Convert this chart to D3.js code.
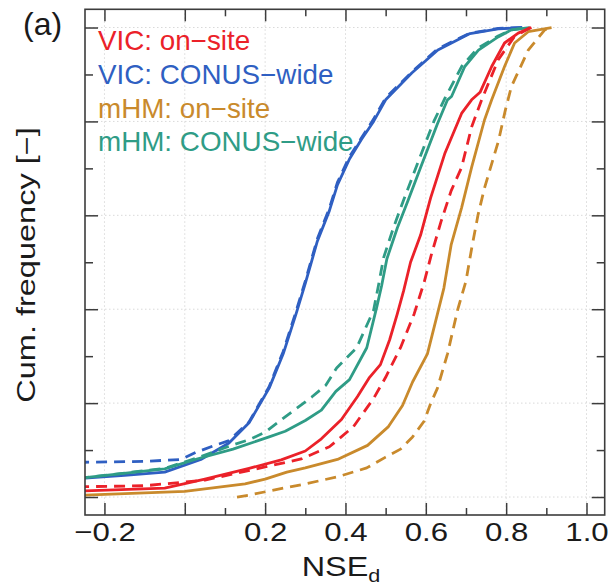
<!DOCTYPE html>
<html>
<head>
<meta charset="utf-8">
<script src="https://cdn.jsdelivr.net/npm/d3@7"></script>
<style>
  body { margin: 0; background: #fff; }
  text { font-family: "Liberation Sans", Arial, sans-serif; }
</style>
</head>
<body>
<div id="chartDiv"></div>
<script>
var vicOnsiteSolid = [[-0.40,0.010],[-0.25,0.013],[-0.05,0.019],[0.05,0.038],[0.16,0.061],[0.24,0.079],[0.30,0.098],[0.34,0.124],[0.39,0.165],[0.43,0.214],[0.46,0.255],[0.487,0.282],[0.51,0.335],[0.529,0.39],[0.545,0.44],[0.562,0.50],[0.587,0.558],[0.612,0.637],[0.647,0.731],[0.689,0.817],[0.714,0.846],[0.735,0.862],[0.764,0.917],[0.796,0.967],[0.83,0.988],[0.863,1.0]];
var vicOnsiteDashed = [[-0.40,0.018],[-0.25,0.022],[-0.10,0.024],[0.05,0.036],[0.20,0.064],[0.29,0.081],[0.36,0.107],[0.42,0.15],[0.47,0.21],[0.50,0.255],[0.537,0.318],[0.571,0.39],[0.596,0.458],[0.615,0.52],[0.638,0.587],[0.663,0.652],[0.689,0.702],[0.714,0.788],[0.739,0.846],[0.78,0.931],[0.82,0.98],[0.86,1.0]];
var vicConusSolid = [[-0.40,0.032],[-0.25,0.040],[-0.15,0.046],[-0.05,0.053],[0.04,0.080],[0.11,0.115],[0.16,0.158],[0.21,0.232],[0.245,0.305],[0.277,0.39],[0.30,0.455],[0.315,0.50],[0.33,0.545],[0.36,0.61],[0.38,0.665],[0.41,0.72],[0.44,0.762],[0.47,0.80],[0.50,0.846],[0.565,0.903],[0.63,0.952],[0.71,0.987],[0.78,0.997],[0.84,1.0]];
var vicConusDashed = [[-0.40,0.070],[-0.25,0.074],[-0.10,0.076],[-0.01,0.080],[0.03,0.096],[0.075,0.110],[0.11,0.120],[0.16,0.160],[0.21,0.235],[0.245,0.31],[0.275,0.39],[0.30,0.46],[0.315,0.505],[0.33,0.55],[0.36,0.615],[0.38,0.67],[0.41,0.725],[0.44,0.765],[0.47,0.805],[0.50,0.85],[0.565,0.905],[0.63,0.955],[0.71,0.988],[0.78,0.998],[0.84,1.0]];
var mhmOnsiteSolid = [[-0.40,0.0],[-0.25,0.004],[0.0,0.012],[0.15,0.028],[0.20,0.038],[0.254,0.053],[0.30,0.062],[0.38,0.080],[0.455,0.110],[0.507,0.150],[0.542,0.195],[0.567,0.245],[0.604,0.305],[0.629,0.39],[0.645,0.445],[0.663,0.537],[0.689,0.616],[0.714,0.702],[0.746,0.803],[0.764,0.846],[0.796,0.917],[0.821,0.967],[0.855,0.991],[0.913,1.0]];
var mhmOnsiteDashed = [[0.13,0.0],[0.16,0.004],[0.211,0.013],[0.30,0.028],[0.38,0.043],[0.453,0.062],[0.50,0.085],[0.537,0.102],[0.567,0.128],[0.596,0.162],[0.612,0.199],[0.629,0.232],[0.654,0.305],[0.679,0.398],[0.70,0.46],[0.714,0.529],[0.73,0.601],[0.746,0.658],[0.781,0.759],[0.798,0.824],[0.813,0.874],[0.855,0.952],[0.896,0.995],[0.913,1.0]];
var mhmConusSolid = [[-0.40,0.032],[-0.25,0.041],[-0.05,0.060],[0.03,0.081],[0.12,0.102],[0.21,0.128],[0.25,0.140],[0.30,0.163],[0.34,0.185],[0.376,0.225],[0.41,0.25],[0.453,0.318],[0.478,0.405],[0.49,0.45],[0.503,0.507],[0.529,0.573],[0.555,0.630],[0.587,0.702],[0.629,0.795],[0.654,0.846],[0.664,0.853],[0.697,0.917],[0.731,0.952],[0.78,0.98],[0.813,0.995],[0.858,1.0]];
var mhmConusDashed = [[-0.40,0.032],[-0.25,0.041],[-0.05,0.061],[0.03,0.083],[0.10,0.105],[0.124,0.112],[0.16,0.122],[0.20,0.138],[0.244,0.167],[0.316,0.213],[0.351,0.238],[0.378,0.275],[0.428,0.318],[0.47,0.398],[0.482,0.45],[0.495,0.51],[0.52,0.575],[0.545,0.633],[0.577,0.705],[0.62,0.80],[0.648,0.85],[0.69,0.918],[0.728,0.955],[0.78,0.982],[0.813,0.995],[0.858,1.0]];

var legendNames = ["VIC: on\u2212site", "VIC: CONUS\u2212wide", "mHM: on\u2212site", "mHM: CONUS\u2212wide"];
var legendColors = ["#eb2129", "#2f5fc2", "#c98a2c", "#2f9c86"];

var xMajorTicks = [-0.2, 0, 0.2, 0.4, 0.6, 0.8, 1.0];
var xMinorTicks = [0.1, 0.3, 0.5, 0.7, 0.9];
var yMajorTicks = [0, 0.2, 0.4, 0.6, 0.8, 1.0];
var yMinorTicks = [0.1, 0.3, 0.5, 0.7, 0.9];

var width = 612, height = 586;
var margin = {left: 85, top: 9.3, right: 612 - 604.7, bottom: 586 - 515};
var w = width - margin.left - margin.right,
    h = height - margin.top - margin.bottom;

var x = d3.scaleLinear().domain([-0.2484, 1.0453]).range([0, w]);
var y = d3.scaleLinear().domain([-0.0383, 1.0388]).range([h, 0]);

var svg = d3.select("#chartDiv").append("svg")
    .attr("width", width)
    .attr("height", height);

var g = svg.append("g")
    .attr("transform", "translate(" + margin.left + "," + margin.top + ")");

svg.append("defs").append("clipPath").attr("id", "plotClip")
  .append("rect").attr("width", w).attr("height", h);

// dotted grid
g.append("g").selectAll("line").data(xMajorTicks).enter().append("line")
    .attr("x1", function (d) { return x(d); }).attr("x2", function (d) { return x(d); })
    .attr("y1", 0).attr("y2", h)
    .attr("stroke", "#d9d9d9").attr("stroke-width", 1).attr("stroke-dasharray", "1.5,2.5");
g.append("g").selectAll("line").data(yMajorTicks).enter().append("line")
    .attr("y1", function (d) { return y(d); }).attr("y2", function (d) { return y(d); })
    .attr("x1", 0).attr("x2", w)
    .attr("stroke", "#d9d9d9").attr("stroke-width", 1).attr("stroke-dasharray", "1.5,2.5");

// curves
var line = d3.line()
    .x(function (d) { return x(d[0]); })
    .y(function (d) { return y(d[1]); });

var series = [
  {data: vicConusDashed, color: legendColors[1], dash: "11,7"},
  {data: vicConusSolid, color: legendColors[1], dash: null},
  {data: mhmConusDashed, color: legendColors[3], dash: "11,7"},
  {data: mhmConusSolid, color: legendColors[3], dash: null},
  {data: mhmOnsiteDashed, color: legendColors[2], dash: "11,7"},
  {data: mhmOnsiteSolid, color: legendColors[2], dash: null},
  {data: vicOnsiteDashed, color: legendColors[0], dash: "11,7"},
  {data: vicOnsiteSolid, color: legendColors[0], dash: null}
];

g.append("g").attr("clip-path", "url(#plotClip)")
  .selectAll("path").data(series).enter().append("path")
    .attr("d", function (d) { return line(d.data); })
    .attr("fill", "none")
    .attr("stroke", function (d) { return d.color; })
    .attr("stroke-width", 2.8)
    .attr("stroke-linejoin", "round")
    .attr("stroke-dasharray", function (d) { return d.dash; });

// ticks on all four sides, pointing inward
var fmt = d3.format(".1f");
var axisColor = "#3c3c3c";

function styleAxis(sel) {
  sel.select(".domain").remove();
  sel.selectAll(".tick line").attr("stroke", axisColor).attr("stroke-width", 1.5);
}

g.append("g").attr("transform", "translate(0," + h + ")")
    .call(d3.axisBottom(x).tickValues(xMajorTicks).tickSizeInner(-12).tickSizeOuter(0).tickPadding(8)
      .tickFormat(function (d) { return d === 0 ? "" : fmt(d); }))
    .call(styleAxis)
    .call(function (s) {
      s.selectAll("text").attr("fill", "#1a1a1a").attr("font-size", 26)
        .attr("font-family", "Liberation Sans, Arial, sans-serif")
        .attr("transform", "scale(1.2,1)");
    });
g.append("g").attr("transform", "translate(0," + h + ")")
    .call(d3.axisBottom(x).tickValues(xMinorTicks).tickSizeInner(-7).tickSizeOuter(0).tickFormat(""))
    .call(styleAxis);
g.append("g")
    .call(d3.axisTop(x).tickValues(xMajorTicks).tickSizeInner(-12).tickSizeOuter(0).tickFormat(""))
    .call(styleAxis);
g.append("g")
    .call(d3.axisTop(x).tickValues(xMinorTicks).tickSizeInner(-7).tickSizeOuter(0).tickFormat(""))
    .call(styleAxis);
g.append("g")
    .call(d3.axisLeft(y).tickValues(yMajorTicks).tickSizeInner(-13).tickSizeOuter(0).tickFormat(""))
    .call(styleAxis);
g.append("g")
    .call(d3.axisLeft(y).tickValues(yMinorTicks).tickSizeInner(-8).tickSizeOuter(0).tickFormat(""))
    .call(styleAxis);
g.append("g").attr("transform", "translate(" + w + ",0)")
    .call(d3.axisRight(y).tickValues(yMajorTicks).tickSizeInner(-13).tickSizeOuter(0).tickFormat(""))
    .call(styleAxis);
g.append("g").attr("transform", "translate(" + w + ",0)")
    .call(d3.axisRight(y).tickValues(yMinorTicks).tickSizeInner(-8).tickSizeOuter(0).tickFormat(""))
    .call(styleAxis);

// frame
g.append("rect")
    .attr("width", w).attr("height", h)
    .attr("fill", "none").attr("stroke", axisColor).attr("stroke-width", 1.6);

// legend (coloured text only)
g.append("g").selectAll("text").data(legendNames).enter().append("text")
    .attr("transform", function (d, i) {
      return "translate(" + (98 - margin.left) + "," + (50 - margin.top + i * 33.8) + ") scale(1.03,1)";
    })
    .attr("font-size", 27)
    .attr("fill", function (d, i) { return legendColors[i]; })
    .text(function (d) { return d; });

// axis labels
var xl = svg.append("text")
    .attr("transform", "translate(341,576) scale(1.2,1)")
    .attr("text-anchor", "middle")
    .attr("font-size", 27)
    .attr("fill", "#1a1a1a");
xl.append("tspan").text("NSE");
xl.append("tspan").attr("font-size", 18).attr("dy", 6).text("d");

svg.append("text")
    .attr("transform", "translate(35,265) rotate(-90) scale(1.3,1)")
    .attr("text-anchor", "middle")
    .attr("font-size", 25)
    .attr("fill", "#1a1a1a")
    .text("Cum. frequency [\u2212]");

svg.append("text")
    .attr("x", 23).attr("y", 35)
    .attr("font-size", 32)
    .attr("fill", "#1a1a1a")
    .text("(a)");
</script>
</body>
</html>
